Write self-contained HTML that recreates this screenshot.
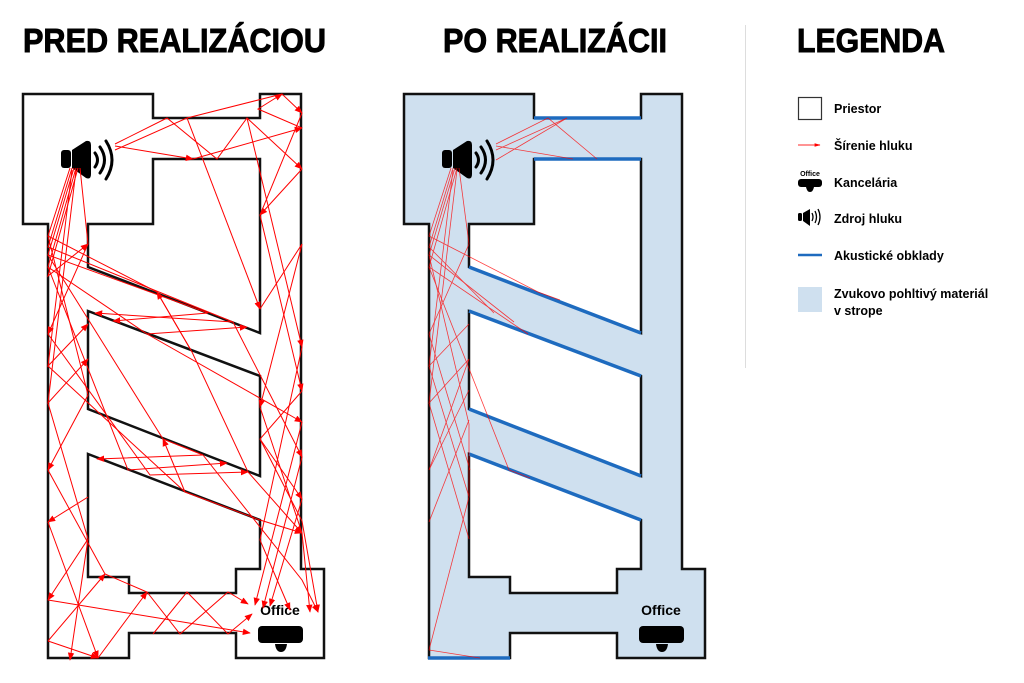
<!DOCTYPE html>
<html><head><meta charset="utf-8"><style>
html,body{margin:0;padding:0;background:#fff;}
svg{display:block;}
text{font-family:"Liberation Sans",sans-serif;font-weight:bold;}
</style></head><body>
<svg width="1024" height="683" viewBox="0 0 1024 683" xmlns="http://www.w3.org/2000/svg">
<defs>
<marker id="ah" viewBox="0 0 10 10" refX="9" refY="5" markerWidth="8" markerHeight="8" orient="auto"><path d="M0,1 L10,5 L0,9 z" fill="#f00"/></marker>
<marker id="al" viewBox="0 0 10 10" refX="9" refY="5" markerWidth="5" markerHeight="5" orient="auto"><path d="M0,2 L10,5 L0,8 z" fill="#f00"/></marker>
<g id="spk">
<rect x="61" y="150" width="10" height="18" rx="3" fill="#000"/>
<path d="M72,150 L86,141 Q91,140 91,145 L91,174 Q91,180 86,178 L72,168 z" fill="#000"/>
<path d="M95,153 Q100,160 95,167" fill="none" stroke="#000" stroke-width="3" stroke-linecap="round"/>
<path d="M100,147 Q109,160 100,173" fill="none" stroke="#000" stroke-width="3" stroke-linecap="round"/>
<path d="M106,141 Q118,160 106,179" fill="none" stroke="#000" stroke-width="3" stroke-linecap="round"/>
</g>
<g id="off">
<text x="280" y="615" font-size="14" text-anchor="middle" fill="#000">Office</text>
<rect x="258" y="626" width="45" height="17" rx="4" fill="#000"/>
<path d="M275,644 L287,644 Q286,652 281,652 Q276,652 275,644 z" fill="#000"/>
</g>
</defs>

<!-- titles -->
<g stroke="#000" stroke-width="0.9">
<text x="23" y="52" font-size="33" textLength="303" lengthAdjust="spacingAndGlyphs">PRED REALIZÁCIOU</text>
<text x="443" y="52" font-size="33" textLength="224" lengthAdjust="spacingAndGlyphs">PO REALIZÁCII</text>
<text x="797" y="52" font-size="33" textLength="148" lengthAdjust="spacingAndGlyphs">LEGENDA</text>
</g>
<line x1="745.5" y1="25" x2="745.5" y2="368" stroke="#ddd" stroke-width="1"/>

<!-- LEFT PLAN -->
<g fill="none" stroke="#111" stroke-width="2.5" stroke-linejoin="miter">
<path d="M23,94 L153,94 L153,118 L260,118 L260,94 L301,94 L301,569 L324,569 L324,658 L236,658 L236,633 L129,633 L129,658 L48,658 L48,224 L23,224 z"/>
<path d="M153,159 L260,159 L260,333 L88,267 L88,224 L153,224 z"/>
<path d="M88,311 L260,376 L260,476 L88,409 z"/>
<path d="M88,454 L260,520 L260,569 L236,569 L236,593 L129,593 L129,577 L88,577 z"/>
</g>
<use href="#spk"/>
<use href="#off"/>
<g fill="none" stroke="#f00" stroke-width="1" marker-end="url(#ah)">
<polyline points="115,144 167,118 217,159 247,118 302,169"/>
<polyline points="115,150 187,118 282,94 302,113"/>
<polyline points="115,146 193,159"/>
<polyline points="302,128 258,109 282,94"/>
<polyline points="193,159 302,128"/>
<polyline points="247,118 302,347"/>
<polyline points="302,169 260,215"/>
<polyline points="187,118 260,309"/>
<polyline points="302,113 260,215 302,391"/>
<polyline points="260,309 302,244 260,407"/>
<polyline points="302,391 260,439 302,499"/>
<polyline points="302,422 255,605"/>
<polyline points="302,457 263,608"/>
<polyline points="260,439 302,521 318,612"/>
<polyline points="260,407 302,533 310,612"/>
<polyline points="302,499 270,606"/>
<polyline points="302,347 260,540 290,610"/>
<polyline points="70,168 48,236 157,292 192,352 248,472 302,533"/>
<polyline points="72,168 48,247 233,322 95,313"/>
<polyline points="74,168 48,255 208,313 113,321"/>
<polyline points="76,168 48,267 147,334 247,327"/>
<polyline points="78,168 48,276 88,244"/>
<polyline points="80,168 88,244 48,334"/>
<polyline points="72,170 48,366 88,324"/>
<polyline points="76,170 48,403 88,359"/>
<polyline points="48,236 88,395 48,470"/>
<polyline points="48,255 163,439 203,455 97,459"/>
<polyline points="48,267 128,470 227,463"/>
<polyline points="48,334 150,475 248,472"/>
<polyline points="48,366 185,492 163,439"/>
<polyline points="147,334 302,422"/>
<polyline points="192,352 157,292"/>
<polyline points="233,322 302,457"/>
<polyline points="88,497 48,522"/>
<polyline points="48,403 88,539 48,600"/>
<polyline points="48,470 105,574 147,592 180,634 228,592 248,604"/>
<polyline points="48,522 98,658"/>
<polyline points="48,600 250,633"/>
<polyline points="88,539 70,660"/>
<polyline points="48,641 105,574"/>
<polyline points="153,634 187,592 228,634 252,614"/>
<polyline points="98,658 147,592"/>
<polyline points="48,641 98,658"/>
<polyline points="185,492 260,520 302,533"/>
<polyline points="203,455 302,580 318,612"/>
</g>

<!-- RIGHT PLAN -->
<path d="M404,94 L534,94 L534,118 L641,118 L641,94 L682,94 L682,569 L705,569 L705,658 L617,658 L617,633 L510,633 L510,658 L429,658 L429,224 L404,224 z" fill="#cfe0ef" stroke="#111" stroke-width="2.5"/>
<g fill="#fff" stroke="#111" stroke-width="2.5">
<path d="M534,159 L641,159 L641,333 L469,267 L469,224 L534,224 z"/>
<path d="M469,311 L641,376 L641,476 L469,409 z"/>
<path d="M469,454 L641,520 L641,569 L617,569 L617,593 L510,593 L510,577 L469,577 z"/>
</g>
<g stroke="#1e6bbf" stroke-width="3.5" fill="none">
<line x1="534" y1="118" x2="641" y2="118"/>
<line x1="534" y1="159" x2="641" y2="159"/>
<line x1="469" y1="267" x2="641" y2="333"/>
<line x1="469" y1="311" x2="641" y2="376"/>
<line x1="469" y1="409" x2="641" y2="476"/>
<line x1="469" y1="454" x2="641" y2="520"/>
<line x1="428" y1="658" x2="510" y2="658"/>
</g>
<g transform="translate(381,0)"><use href="#spk"/></g>
<g transform="translate(381,-0)"><use href="#off"/></g>
<g fill="none" stroke="#f00" stroke-width="0.8" opacity="0.75">
<polyline points="496,144 548,118 597,159"/>
<polyline points="496,150 567,118 496,160"/>
<polyline points="496,146 573,159"/>
<polyline points="451,168 429,236 538,292 560,300"/>
<polyline points="453,168 429,247 494,313"/>
<polyline points="455,168 429,255 514,322"/>
<polyline points="457,168 429,267 528,334"/>
<polyline points="459,168 469,244 429,334"/>
<polyline points="453,170 429,366 469,324"/>
<polyline points="457,170 429,403 469,359 429,470"/>
<polyline points="429,255 469,424 469,497"/>
<polyline points="429,267 509,470 530,478"/>
<polyline points="429,334 470,470"/>
<polyline points="429,366 469,497 429,650"/>
<polyline points="429,403 469,539"/>
<polyline points="429,470 469,390"/>
<polyline points="429,650 480,658"/>
<polyline points="429,522 469,420"/>
</g>

<!-- LEGEND -->
<rect x="798.5" y="97.5" width="23" height="22" fill="#fff" stroke="#333" stroke-width="1.2"/>
<text x="834" y="113" font-size="12.5">Priestor</text>
<line x1="798" y1="145" x2="820" y2="145" stroke="#f55" stroke-width="1.2" marker-end="url(#al)"/>
<text x="834" y="150" font-size="12.5">Šírenie hluku</text>
<text x="810" y="176" font-size="7" text-anchor="middle">Office</text>
<rect x="798" y="179" width="24" height="8" rx="3" fill="#000"/>
<path d="M806,187 L814,187 Q813,192 810,192 Q807,192 806,187z" fill="#000"/>
<text x="834" y="187" font-size="12.5">Kancelária</text>
<rect x="798" y="213" width="4" height="8" rx="1.5" fill="#000"/>
<path d="M803,213 L810,209 L810,226 L803,221z" fill="#000"/>
<path d="M812,213 Q814,217 812,221 M815,211 Q818,217 815,223 M818,209 Q822,217 818,225" fill="none" stroke="#000" stroke-width="1.3"/>
<text x="834" y="223" font-size="12.5">Zdroj hluku</text>
<line x1="798" y1="255" x2="822" y2="255" stroke="#1e6bbf" stroke-width="2.5"/>
<text x="834" y="260" font-size="12.5">Akustické obklady</text>
<rect x="798" y="287" width="24" height="25" fill="#cfe0ef"/>
<text x="834" y="298" font-size="12.5">Zvukovo pohltivý materiál</text>
<text x="834" y="315" font-size="12.5">v strope</text>
</svg>
</body></html>
